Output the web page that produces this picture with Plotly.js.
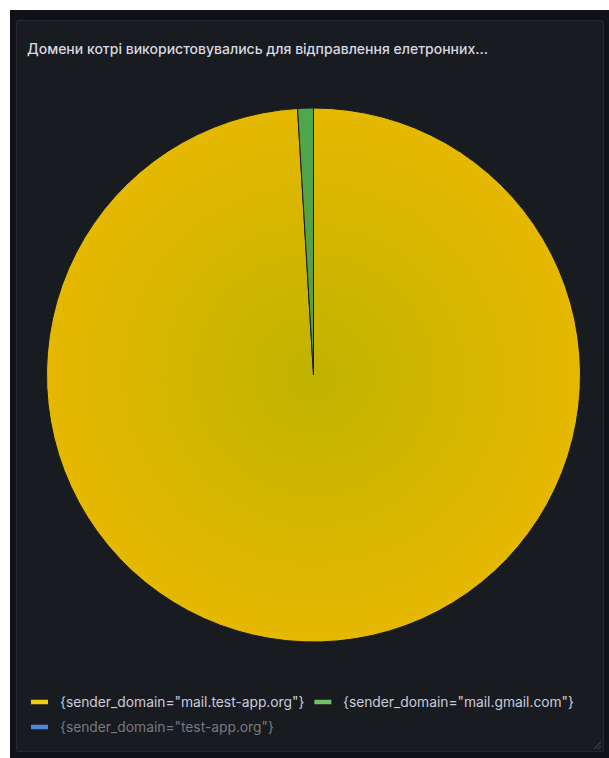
<!DOCTYPE html>
<html><head><meta charset="utf-8">
<script src="https://cdn.plot.ly/plotly-3.0.1.min.js"></script>
<style>
html,body{margin:0;padding:0;background:#fff;width:609px;height:758px;overflow:hidden}
#outer{position:absolute;left:10px;top:10px;width:599px;height:748px;background:#111217}
#panel{position:absolute;left:16px;top:20px;width:586px;height:730px;background:#181b1f;border:1px solid #25272c;border-radius:2px}
#chart{position:absolute;left:0;top:0;width:586px;height:730px}
#handle{position:absolute;right:1px;bottom:1px;width:10px;height:10px}
</style></head><body>
<div id="outer"></div>
<div id="panel"><div id="chart"></div>
<svg id="handle" viewBox="0 0 10 10"><path d="M9 2 L2 9 M9 5.5 L5.5 9" stroke="#4a4c52" stroke-width="1" fill="none"/></svg>
</div>
<script>
// ---- data ----
const panelTitle = 'Домени котрі використовувались для відправлення елетронних...';
const labels = ['{sender_domain="mail.test-app.org"}', '{sender_domain="mail.gmail.com"}', '{sender_domain="test-app.org"}'];
const values = [1040, 10, 0];
const hidden = [false, false, true];
const legendColors = ['#F2CC0C', '#73BF69', '#5794F2'];
const sliceColors = ['#e2b700', '#52a64b', '#5794F2'];
const gradInner = ['#c0b300', '#5f9c3c', '#4f88e0'];
const gradOuter = ['#e6b800', '#4ea84d', '#5a8ff2'];

// ---- layout constants ----
const W = 586, H = 730;
const cxPx = 296.5, cyPx = 354, R = 267;
const legendRowY = [681, 706];
const legendX0 = 14, barW = 17, barH = 4.5, barGap = 10, itemGap = 12, legendMaxX = W - 4;
const fontFam = 'Inter, "Noto Sans", sans-serif';
const legendFontSize = 13.8;

const ctx = document.createElement('canvas').getContext('2d');
ctx.font = legendFontSize + 'px Inter';

const shapes = [], annotations = [];
let row = 0, x = legendX0;
labels.forEach((lab, i) => {
  const tw = ctx.measureText(lab).width;
  const itemW = barW + barGap + tw;
  if (x > legendX0 && x + itemW > legendMaxX) { row++; x = legendX0; }
  const yc = legendRowY[row];
  const op = hidden[i] ? 0.9 : 1;
  shapes.push({type: 'rect', xref: 'paper', yref: 'paper',
    x0: x / W, x1: (x + barW) / W, y0: (H - yc - barH / 2) / H, y1: (H - yc + barH / 2) / H,
    fillcolor: legendColors[i], line: {width: 0}, opacity: op});
  annotations.push({text: lab, xref: 'paper', yref: 'paper', x: (x + barW + barGap) / W, y: (H - yc) / H,
    xanchor: 'left', yanchor: 'middle', showarrow: false,
    font: {family: fontFam, size: legendFontSize, color: hidden[i] ? 'rgba(204,204,220,0.55)' : '#ccccdc'}});
  x += itemW + itemGap;
});

const trace = {
  type: 'pie', labels: labels, values: values, sort: false, direction: 'clockwise', rotation: 0,
  marker: {colors: sliceColors, line: {color: '#181b1f', width: 1}},
  textinfo: 'none', hoverinfo: 'label+value+percent',
  domain: {x: [(cxPx - R) / W, (cxPx + R) / W], y: [(H - cyPx - R) / H, (H - cyPx + R) / H]}
};

const layout = {
  width: W, height: H, margin: {l: 0, r: 0, t: 0, b: 0},
  paper_bgcolor: 'rgba(0,0,0,0)', plot_bgcolor: 'rgba(0,0,0,0)',
  showlegend: false,
  hiddenlabels: labels.filter((l, i) => hidden[i]),
  title: {text: panelTitle, x: 10 / W, xref: 'paper', xanchor: 'left', y: 1 - 28 / H, yref: 'paper', yanchor: 'middle',
    font: {family: fontFam, size: 14, weight: 500, color: '#d8d9e2'}},
  shapes: shapes, annotations: annotations
};

Plotly.newPlot('chart', [trace], layout, {displayModeBar: false, staticPlot: true}).then(gd => {
  const ns = 'http://www.w3.org/2000/svg';
  const svg = gd.querySelector('svg.main-svg');
  const defs = document.createElementNS(ns, 'defs');
  svg.insertBefore(defs, svg.firstChild);
  const paths = Array.from(gd.querySelectorAll('g.slice path.surface'));
  let big = null, bigArea = -1;
  paths.forEach(p => { const b = p.getBBox(); if (b.width * b.height > bigArea) { bigArea = b.width * b.height; big = b; } });
  if (!big) return;
  const gcx = big.x + big.width / 2, gcy = big.y + big.height / 2, gr = Math.max(big.width, big.height) / 2;
  paths.forEach((p, k) => {
    const d = p.parentNode.__data__;
    const i = (d && d.i !== undefined) ? d.i : k;
    const g = document.createElementNS(ns, 'radialGradient');
    g.setAttribute('id', 'grad' + i);
    g.setAttribute('gradientUnits', 'userSpaceOnUse');
    g.setAttribute('cx', gcx); g.setAttribute('cy', gcy); g.setAttribute('r', gr);
    [[0, gradInner[i]], [1, gradOuter[i]]].forEach(([o, c]) => {
      const s = document.createElementNS(ns, 'stop');
      s.setAttribute('offset', o); s.setAttribute('stop-color', c);
      g.appendChild(s);
    });
    defs.appendChild(g);
    p.style.fill = 'url(#grad' + i + ')';
  });
});
</script>
</body></html>
